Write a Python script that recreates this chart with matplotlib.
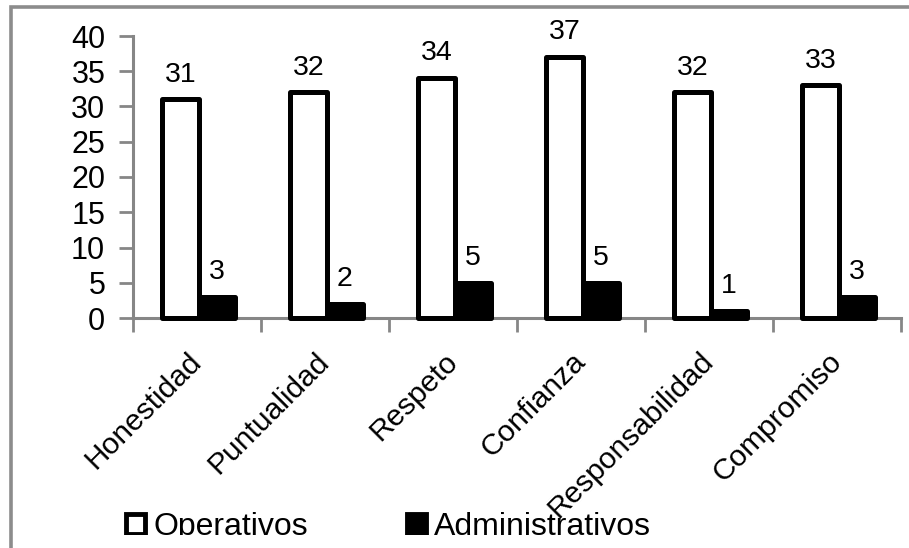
import matplotlib
matplotlib.use("Agg")
import matplotlib.pyplot as plt
from matplotlib.patches import Rectangle, Patch
import numpy as np

categories = ["Honestidad", "Puntualidad", "Respeto", "Confianza", "Responsabilidad", "Compromiso"]
operativos = [31, 32, 34, 37, 32, 33]
administrativos = [3, 2, 5, 5, 1, 3]
series_names = ["Operativos", "Administrativos"]
yticks = [0, 5, 10, 15, 20, 25, 30, 35, 40]

plt.rcParams['font.family'] = ['Liberation Sans', 'DejaVu Sans']
FS_YTICK = 22
FS_XTICK = 21.5
FS_LAB = 20.5
FS_LEG = 23
GRAY = '#868686'

fig = plt.figure(figsize=(9.09, 5.48), dpi=100)
ax = fig.add_axes([133/909, 1-318/548, (901-133)/909, (318-36)/548])

x = np.arange(len(categories)) + 0.5
w = 0.282
lw = 3.6
b1 = ax.bar(x - w/2 + 0.012, operativos, w, color='white', edgecolor='black', linewidth=lw,
            joinstyle='round', zorder=3, clip_on=False)
b2 = ax.bar(x + w/2 + 0.012, administrativos, w, color='black', edgecolor='black', linewidth=lw,
            joinstyle='round', zorder=3, clip_on=False)

for bars, vals in ((b1, operativos), (b2, administrativos)):
    for r, v in zip(bars, vals):
        ax.annotate(str(v), (r.get_x() + r.get_width()/2, v), xytext=(0, 8.5),
                    textcoords='offset points', ha='center', va='bottom', fontsize=FS_LAB)

ax.set_xlim(0, len(categories))
ax.set_ylim(0, 40)
ax.set_yticks(yticks)
ax.set_xticks(np.arange(len(categories) + 1))
ax.set_xticklabels([])
ax.set_xticks(x, minor=True)
ax.set_xticklabels(categories, minor=True, rotation=45, ha='right', va='center',
                   rotation_mode='anchor', fontsize=FS_XTICK)
ax.tick_params(axis='x', which='minor', length=0, pad=28)
ax.tick_params(axis='x', which='major', length=10, width=2, color=GRAY, direction='out')
ax.tick_params(axis='y', length=10, width=2, color=GRAY, direction='out', labelsize=FS_YTICK, pad=10)

for s in ['top', 'right']:
    ax.spines[s].set_visible(False)
for s in ['left', 'bottom']:
    ax.spines[s].set_color(GRAY)
    ax.spines[s].set_linewidth(2.2)
    ax.spines[s].set_zorder(2)

# legend
h1 = Patch(facecolor='white', edgecolor='black', linewidth=3.5)
h2 = Patch(facecolor='black', edgecolor='black', linewidth=3.5)
leg = fig.legend([h1, h2], series_names, loc='lower left', bbox_to_anchor=(126/909, 1-542/548),
                 ncol=2, frameon=False, fontsize=FS_LEG, handlelength=0.6, handleheight=0.6,
                 handletextpad=0.25, columnspacing=3.1, borderpad=0, borderaxespad=0)

# outer chart border (partially outside the image)
fig.add_artist(Rectangle((10.5/909, -0.1), 1.2, (1-7/548) + 0.1, transform=fig.transFigure,
                         facecolor='none', edgecolor='#8c8c8c', linewidth=2.6, zorder=0))
# bottom clipping as in the reference
fig.add_artist(Rectangle((12.5/909, 0), 1, 13/548, transform=fig.transFigure,
                         facecolor='white', edgecolor='none', zorder=10))

fig.savefig('out.png', dpi=100)
